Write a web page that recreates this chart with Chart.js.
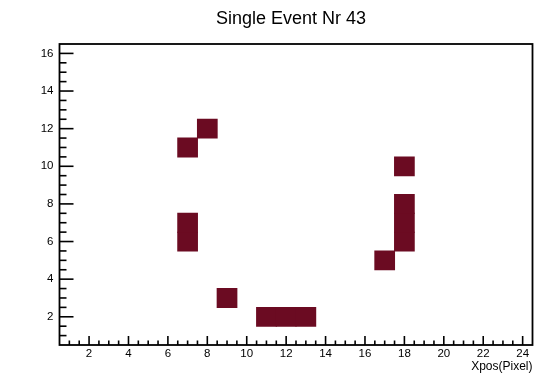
<!DOCTYPE html>
<html><head><meta charset="utf-8">
<script src="https://cdn.jsdelivr.net/npm/chart.js@4/dist/chart.umd.min.js"></script>
<style>html,body{margin:0;padding:0;background:#fff}#wrap{width:535px;height:376px}</style>
</head><body><div id="wrap"><canvas id="c" width="535" height="376"></canvas></div>
<script>
const chartTitle = "Single Event Nr 43";
const xAxisTitle = "Xpos(Pixel)";
const xRange = [0.5, 24.5];
const yRange = [0.5, 16.5];
const xTickLabels = [2, 4, 6, 8, 10, 12, 14, 16, 18, 20, 22, 24];
const yTickLabels = [2, 4, 6, 8, 10, 12, 14, 16];
const cellX = [7, 8, 7, 7, 9, 11, 12, 13, 17, 18, 18, 18, 18];
const cellY = [11, 12, 6, 7, 3, 2, 2, 2, 5, 6, 7, 8, 10];
const cellValue = [1, 1, 1, 1, 1, 1, 1, 1, 1, 1, 1, 1, 1];

const FONT = "'Liberation Sans', Arial, Helvetica, sans-serif";
const cellColor = '#6b0b22';

const cells = cellX.map((x, i) => ({ x: x, y: [cellY[i] - 0.5, cellY[i] + 0.5], v: cellValue[i] }));

const framePlugin = {
  id: 'frame',
  afterDraw(chart) {
    const { ctx, chartArea: a, scales } = chart;
    const xs = scales.x, ys = scales.y;
    ctx.save();
    ctx.strokeStyle = '#000';
    ctx.lineWidth = 1.6;
    for (let v = 1; v <= 24; v += 0.5) {
      const px = xs.getPixelForValue(v);
      const major = xTickLabels.includes(v);
      const len = major ? 9 : 4.5;
      ctx.beginPath(); ctx.moveTo(px, a.bottom); ctx.lineTo(px, a.bottom - len); ctx.stroke();
    }
    for (let v = 1; v <= 16; v += 0.5) {
      const py = ys.getPixelForValue(v);
      const major = yTickLabels.includes(v);
      const len = major ? 14 : 7;
      ctx.beginPath(); ctx.moveTo(a.left, py); ctx.lineTo(a.left + len, py); ctx.stroke();
    }
    ctx.lineWidth = 1.8;
    ctx.strokeRect(a.left, a.top, a.right - a.left, a.bottom - a.top);
    ctx.fillStyle = '#000';
    ctx.font = '18px ' + FONT;
    ctx.textAlign = 'center';
    ctx.textBaseline = 'alphabetic';
    ctx.fillText(chartTitle, 291, 23.5);
    ctx.restore();
  }
};

new Chart(document.getElementById('c'), {
  type: 'bar',
  data: {
    datasets: [{
      data: cells,
      backgroundColor: cellColor,
      borderWidth: 0,
      categoryPercentage: 1,
      barPercentage: 1,
      inflateAmount: 0.5
    }]
  },
  options: {
    responsive: false,
    devicePixelRatio: 1,
    animation: false,
    layout: { padding: { top: 44, right: 2.5, left: 0, bottom: 0 } },
    plugins: { legend: { display: false }, tooltip: { enabled: false }, title: { display: false } },
    scales: {
      x: {
        type: 'linear',
        min: xRange[0], max: xRange[1],
        offset: false,
        afterBuildTicks: s => { s.ticks = xTickLabels.map(v => ({ value: v })); },
        afterFit: s => { s.height = 31; },
        grid: { display: false, drawTicks: false },
        border: { display: false },
        ticks: { font: { family: FONT, size: 11.5 }, color: '#000', padding: 2, maxRotation: 0, autoSkip: false },
        title: { display: true, text: xAxisTitle, align: 'end', color: '#000', font: { family: FONT, size: 12 }, padding: { top: 0, bottom: 2 } }
      },
      y: {
        type: 'linear',
        min: yRange[0], max: yRange[1],
        afterBuildTicks: s => { s.ticks = yTickLabels.map(v => ({ value: v })); },
        afterFit: s => { s.width = 59.5; },
        grid: { display: false, drawTicks: false },
        border: { display: false },
        ticks: { font: { family: FONT, size: 11.5 }, color: '#000', padding: 6, autoSkip: false }
      }
    }
  },
  plugins: [framePlugin]
});
</script></body></html>
